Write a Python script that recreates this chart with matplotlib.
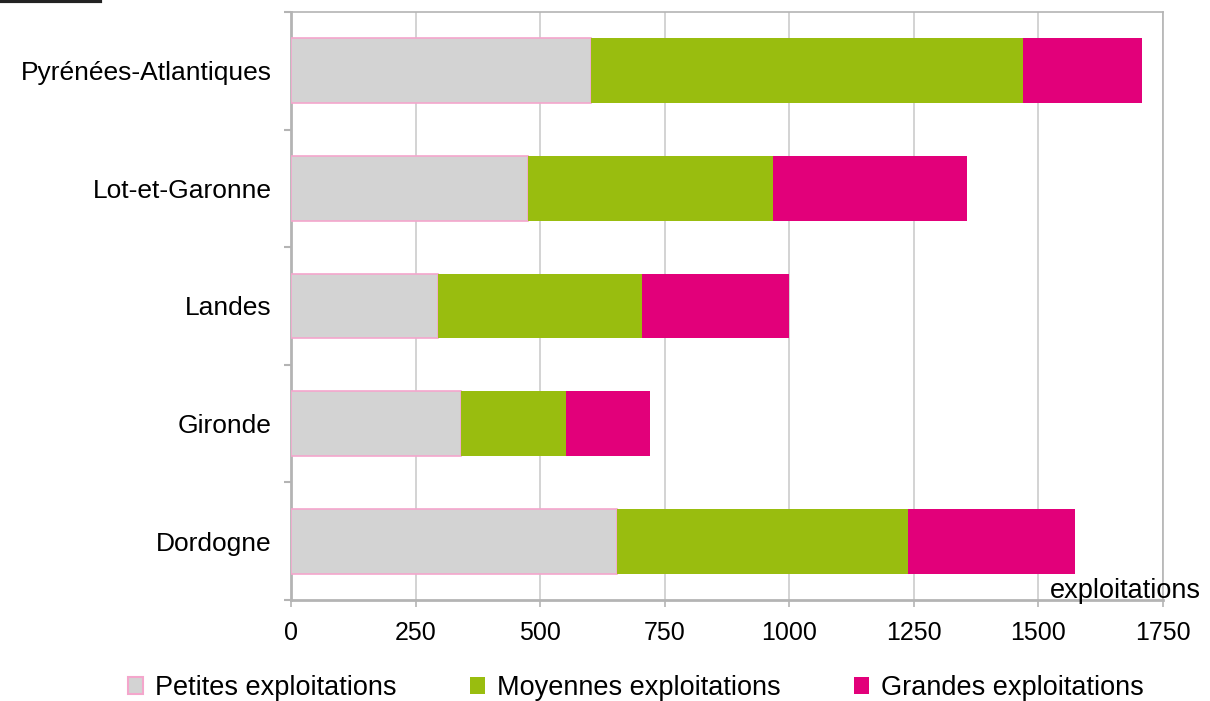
import matplotlib.pyplot as plt
import numpy as np
from matplotlib.patches import Patch

# departements, bottom to top
departements = ["Dordogne", "Gironde", "Landes", "Lot-et-Garonne", "Pyrénées-Atlantiques"]
petites = [654, 341, 295, 476, 602]
moyennes = [584, 211, 409, 491, 867]
grandes = [335, 168, 295, 389, 238]
series_names = ["Petites exploitations", "Moyennes exploitations", "Grandes exploitations"]
x_ticks = [0, 250, 500, 750, 1000, 1250, 1500, 1750]

c_pet = "#d3d3d3"
c_moy = "#99bd0f"
c_gra = "#e2007a"
c_edge = "#f4a6cc"
c_axis = "#b4b4b4"

plt.rcParams['font.family'] = ['Liberation Sans', 'DejaVu Sans']

fig = plt.figure(figsize=(12.1, 7.01), dpi=100)
ax = fig.add_axes([0.2405, 0.1441, 0.9612 - 0.2405, 0.9829 - 0.1441])

y = np.arange(len(departements))
h = 0.55
pet = np.array(petites)
moy = np.array(moyennes)
gra = np.array(grandes)

ax.barh(y, pet, height=h, color=c_pet, edgecolor=c_edge, linewidth=1.2, zorder=3)
ax.barh(y, moy, left=pet, height=h, color=c_moy, edgecolor="none", zorder=3)
ax.barh(y, gra, left=pet + moy, height=h, color=c_gra, edgecolor="none", zorder=3)

ax.set_xlim(0, 1750)
ax.set_ylim(-0.5, len(departements) - 0.5)
ax.set_xticks(x_ticks)
ax.set_xticklabels([str(v) for v in x_ticks], fontsize=18)
ax.set_yticks(y)
ax.set_yticklabels(departements, fontsize=19)
ax.set_yticks(np.arange(-0.5, len(departements)), minor=True)
ax.tick_params(axis='y', which='major', length=0, pad=14)
ax.tick_params(axis='y', which='minor', length=5, color=c_axis, width=1.5)
ax.tick_params(axis='x', length=5, color=c_axis, width=1.2, pad=10)

ax.grid(axis='x', color="#cccccc", linewidth=1.2, zorder=0)
for s in ax.spines.values():
    s.set_color(c_axis)
    s.set_linewidth(1.2)
ax.spines['left'].set_linewidth(2)
ax.spines['bottom'].set_linewidth(2)

fig.text(1050 / 1210, 1 - 591 / 701, "exploitations", fontsize=19.5, va='center', ha='left')

# bit of dark border cropped at top-left
fig.add_artist(plt.Line2D([0, 100 / 1210], [0.998, 0.998], color="#222222", linewidth=3))

handles = [Patch(facecolor=c_pet, edgecolor=c_edge, linewidth=1.5),
           Patch(facecolor=c_moy, edgecolor="none"),
           Patch(facecolor=c_gra, edgecolor="none")]
fig.legend(handles, series_names, loc='center', bbox_to_anchor=(0.5256, 1 - 688 / 701),
           ncol=3, frameon=False, fontsize=19.5, handlelength=0.55, handleheight=0.6,
           handletextpad=0.45, columnspacing=2.7)

fig.savefig("out.png", dpi=100)
